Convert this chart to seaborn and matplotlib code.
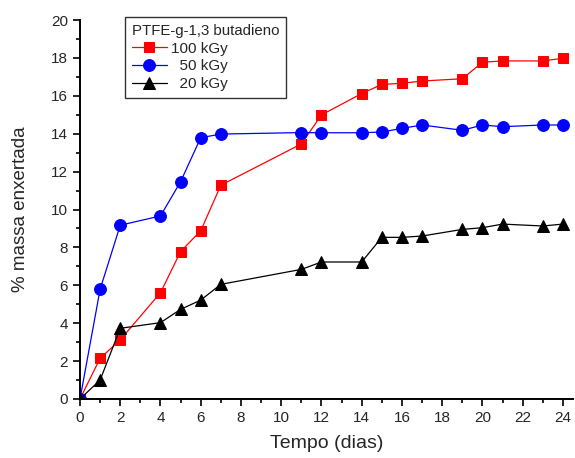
import matplotlib
matplotlib.use("Agg")
import matplotlib.pyplot as plt
import pandas as pd
import seaborn as sns
from matplotlib.ticker import MultipleLocator

# grafting yield (%) vs time (days) for three doses
dias = [0, 1, 2, 4, 5, 6, 7, 11, 12, 14, 15, 16, 17, 19, 20, 21, 23, 24]
kgy100 = [0, 2.15, 3.12, 5.61, 7.78, 8.88, 11.28, 13.46, 14.99, 16.12, 16.6, 16.66,
          16.78, 16.9, 17.77, 17.84, 17.84, 17.98]
kgy50 = [0, 5.79, 9.17, 9.66, 11.47, 13.79, 13.98, 14.06, 14.05, 14.05, 14.09, 14.28,
         14.46, 14.18, 14.46, 14.37, 14.46, 14.46]
kgy20 = [0, 1.0, 3.73, 4.03, 4.73, 5.22, 6.05, 6.84, 7.23, 7.23, 8.53, 8.53,
         8.6, 8.95, 9.04, 9.23, 9.13, 9.23]

series = [("100 kGy", kgy100, "#ff0000", "s", 7.5),
          ("  50 kGy", kgy50, "#0000ff", "o", 8.5),
          ("  20 kGy", kgy20, "#000000", "^", 8.5)]

sns.set_style("ticks")
plt.rcParams['font.family'] = ['Liberation Sans', 'DejaVu Sans']

fig = plt.figure(figsize=(5.75, 4.58), dpi=100)
ax = fig.add_axes([80 / 575, 59 / 458, 493 / 575, 379 / 458])

for label, vals, color, mk, ms in series:
    df = pd.DataFrame({"Tempo": dias, "Massa": vals})
    sns.lineplot(data=df, x="Tempo", y="Massa", ax=ax, color=color, marker=mk,
                 markersize=ms, markeredgecolor=color, linewidth=0.9, label=label)

ax.set_xlim(0, 24.5)
ax.set_ylim(0, 20)
ax.xaxis.set_major_locator(MultipleLocator(2))
ax.xaxis.set_minor_locator(MultipleLocator(1))
ax.yaxis.set_major_locator(MultipleLocator(2))
ax.yaxis.set_minor_locator(MultipleLocator(1))
ax.tick_params(which='major', direction='out', length=5, width=1.2, labelsize=11, color='black')
ax.tick_params(which='minor', direction='out', length=3, width=1.2, color='black')
for s in ['top', 'right']:
    ax.spines[s].set_visible(False)
for s in ['left', 'bottom']:
    ax.spines[s].set_linewidth(1.4)
    ax.spines[s].set_color('black')

ax.set_xlabel("Tempo (dias)", fontsize=14, labelpad=7)
ax.set_ylabel("% massa enxertada", fontsize=13.5, labelpad=16)

leg = ax.legend(title="PTFE-g-1,3 butadieno", loc='upper left',
                bbox_to_anchor=(45 / 493, 1.008), fontsize=11, title_fontsize=10.8,
                frameon=True, fancybox=False, edgecolor='black', borderpad=0.45,
                handlelength=2.3, handletextpad=0.25, labelspacing=0.25,
                borderaxespad=0, alignment='left')
leg.get_frame().set_linewidth(1.0)

fig.savefig("out.png", dpi=100)
